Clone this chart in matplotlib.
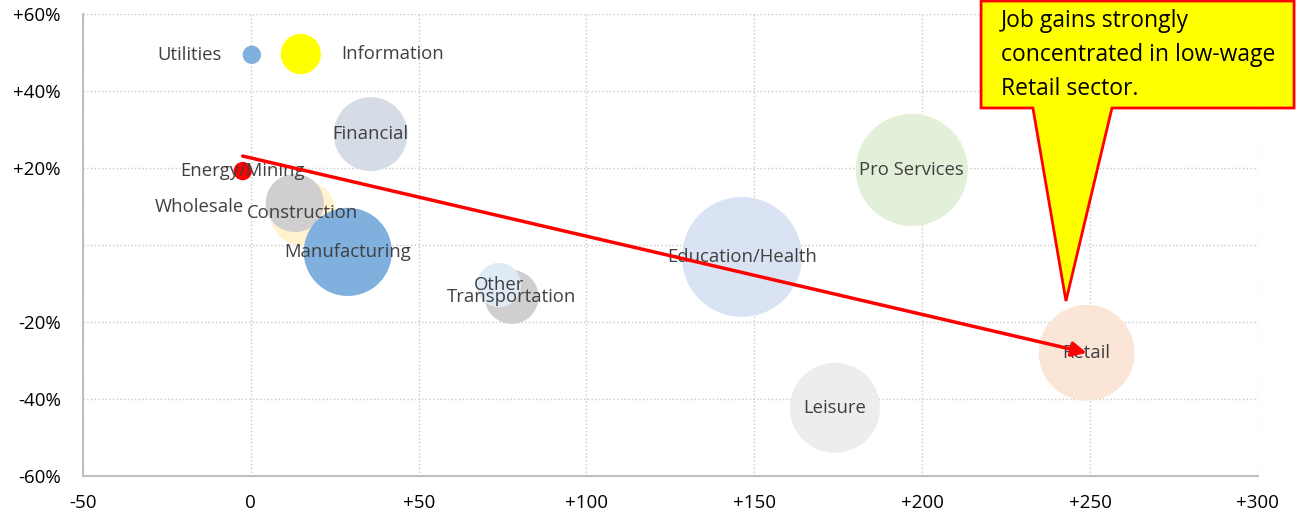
import matplotlib.pyplot as plt
from matplotlib.patches import Polygon
from matplotlib.ticker import FuncFormatter
import numpy as np

plt.rcParams['font.family'] = ['Open Sans', 'DejaVu Sans']

# job gains (thousands), wage change (%), employment (millions) per sector
sectors = ['Construction', 'Wholesale', 'Manufacturing', 'Utilities', 'Information',
           'Financial', 'Energy/Mining', 'Transportation', 'Other',
           'Education/Health', 'Pro Services', 'Retail', 'Leisure']
job_gains = [15.5, 13.1, 28.9, 0.3, 14.9, 35.7, -2.4, 77.7, 73.9, 146.3, 196.9, 249.0, 174.0]
wage_pct = [8.3, 10.9, -1.8, 49.4, 49.6, 28.8, 19.2, -13.5, -10.4, -3.1, 19.5, -28.0, -42.3]
employment = [6.4, 5.0, 11.5, 0.5, 2.4, 8.1, 0.5, 4.3, 2.9, 21.3, 18.6, 13.6, 12.0]
colors = ['#FFF2CC', '#D0CECE', '#7FB0DE', '#7FB0DE', '#FFFF00', '#D6DCE5', '#FF0000',
          '#D0CECE', '#DEEBF7', '#DAE3F3', '#E2F0D9', '#FBE5D6', '#EDEDED']

trend_start = (-2.4, 23.1)
trend_end = (249.0, -28.0)

fig = plt.figure(figsize=(12.96, 5.16), dpi=100)
ax = fig.add_axes([0.064, 0.0775, 0.9066, 0.8954])

sizes = [350 * e for e in employment]
ax.scatter(job_gains, wage_pct, s=sizes, c=colors, edgecolors='none', zorder=3)

for name, x, y in zip(sectors, job_gains, wage_pct):
    ha = 'center'
    dx = 0
    dy = 0
    if name == 'Utilities':
        ha, dx = 'right', -9
    elif name == 'Information':
        ha, dx = 'left', 12
    elif name == 'Wholesale':
        ha, dx, dy = 'right', -15, -1
    ax.text(x + dx, y + dy, name, ha=ha, va='center', fontsize=13.3, color='#404040', zorder=5)

ax.annotate('', xy=trend_end, xytext=trend_start,
            arrowprops=dict(arrowstyle='-|>', color='red', lw=2.5, mutation_scale=22,
                            shrinkA=0, shrinkB=0), zorder=6)

ax.set_xlim(-50, 300)
ax.set_ylim(-60, 60)
ax.set_xticks(np.arange(-50, 301, 50))
ax.set_yticks(np.arange(-60, 61, 20))
ax.xaxis.set_major_formatter(FuncFormatter(lambda v, p: '0' if v == 0 else f'{v:+.0f}'))
ax.yaxis.set_major_formatter(FuncFormatter(lambda v, p: '' if v == 0 else f'{v:+.0f}%'))
ax.tick_params(length=0, labelsize=13.5)
ax.tick_params(axis='y', pad=16)
ax.tick_params(axis='x', pad=13)
ax.grid(True, linestyle=':', color='#C8C8C8', linewidth=1)
ax.set_axisbelow(True)
for s in ['top', 'right']:
    ax.spines[s].set_visible(False)
for s in ['left', 'bottom']:
    ax.spines[s].set_color('#BFBFBF')
    ax.spines[s].set_linewidth(1.5)

# callout box
callout = Polygon([(0.757, 0.998), (0.9985, 0.998), (0.9985, 0.7907), (0.858, 0.7907),
                   (0.8225, 0.4167), (0.797, 0.7907), (0.757, 0.7907)],
                  closed=True, facecolor='#FFFF00', edgecolor='red', linewidth=2,
                  transform=fig.transFigure, zorder=10)
fig.patches.append(callout)
fig.text(0.772, 0.982, 'Job gains strongly\nconcentrated in low-wage\nRetail sector.',
         ha='left', va='top', fontsize=16.5, linespacing=1.55, color='black', zorder=11)

plt.savefig('out.png', dpi=100)
